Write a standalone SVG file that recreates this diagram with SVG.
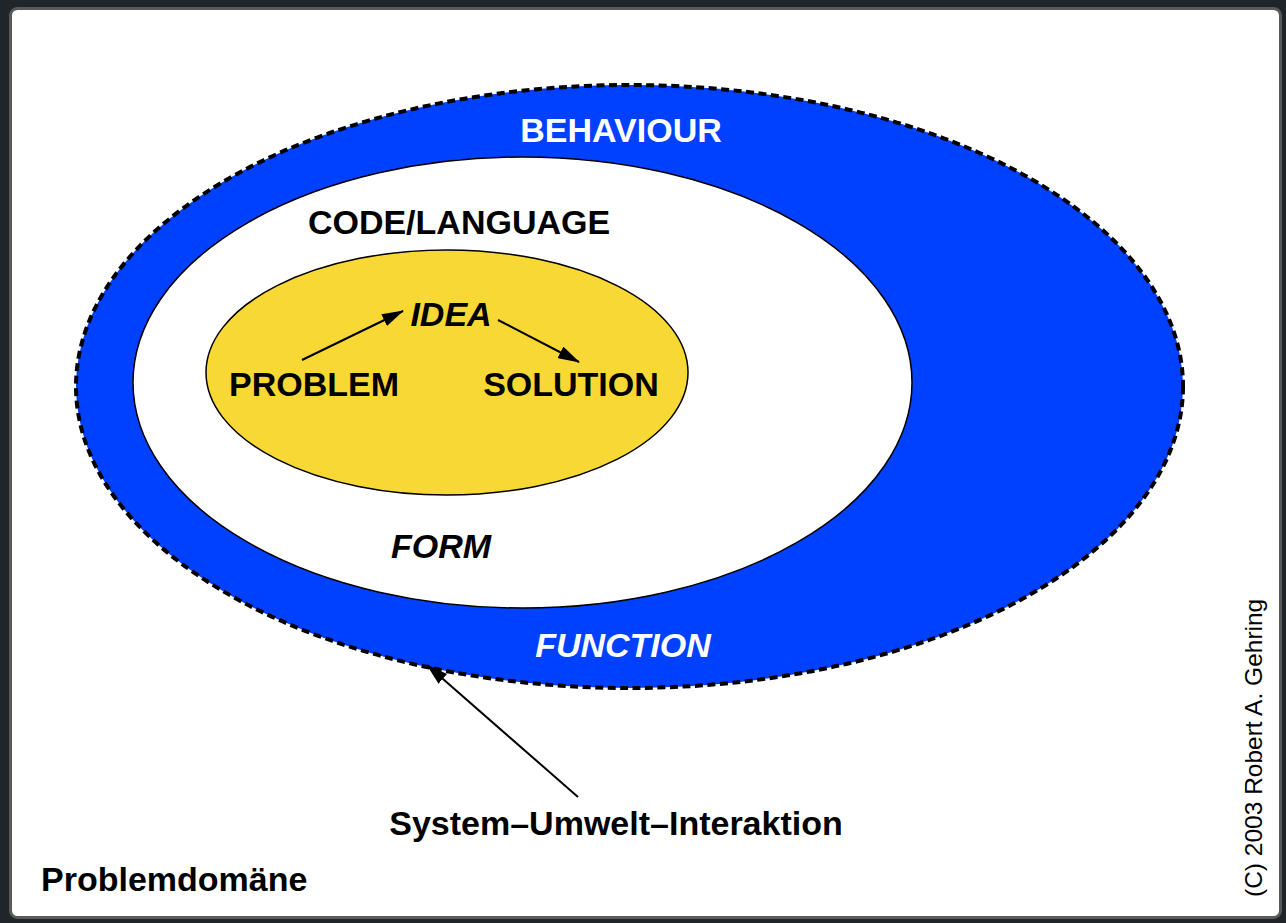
<svg xmlns="http://www.w3.org/2000/svg" width="1286" height="923" viewBox="0 0 1286 923">
<style>
.t{font-family:"Liberation Sans",Arial,sans-serif;font-weight:bold;font-size:34px;text-anchor:middle}
.i{font-style:italic}
.w{fill:#ffffff}
.k{fill:#000000}
.ln{stroke:#000;stroke-width:2;fill:none}
</style>
<defs>
<marker id="ah" viewBox="0 0 22 13" refX="21" refY="6.5" markerWidth="22" markerHeight="13" markerUnits="userSpaceOnUse" orient="auto">
<path d="M0,0 L22,6.5 L0,13 Z" fill="#000"/>
</marker>
</defs>
<rect x="0" y="0" width="1286" height="923" fill="#1f2529"/>
<rect x="10.5" y="8.5" width="1270" height="909" rx="7" fill="#ffffff" stroke="#5a5a5a" stroke-width="3"/>
<g id="behaviour">
<ellipse cx="629.5" cy="386.5" rx="553.5" ry="301.5" fill="#0040ff" stroke="#000" stroke-width="4" stroke-dasharray="8,4.5"/>
<text class="t w" x="621" y="142">BEHAVIOUR</text>
<text class="t w i" x="623" y="657">FUNCTION</text>
</g>
<g id="form">
<ellipse cx="522.5" cy="382.5" rx="389.5" ry="225.5" fill="#ffffff" stroke="#000" stroke-width="1.5"/>
<text class="t k" x="459" y="234">CODE/LANGUAGE</text>
<text class="t k i" x="441" y="558">FORM</text>
</g>
<g id="idea-core">
<ellipse cx="447" cy="372.5" rx="241" ry="122.5" fill="#f8d835" stroke="#000" stroke-width="1.5"/>
</g>
<g id="idea"><text class="t k i" x="451" y="326">IDEA</text></g>
<g id="problem"><text class="t k" x="314" y="396">PROBLEM</text></g>
<g id="solution"><text class="t k" x="571" y="396">SOLUTION</text></g>
<g id="interaction"><text class="t k" x="616" y="835">System–Umwelt–Interaktion</text></g>
<g id="domain"><text class="t k" x="41" y="891" style="text-anchor:start">Problemdomäne</text></g>
<g id="copyright"><text x="1262" y="897" transform="rotate(-90 1262 897)" style="font-family:'Liberation Sans',Arial,sans-serif;font-size:24.5px;fill:#000">(C) 2003 Robert A. Gehring</text></g>
<g id="connectors">
<line class="ln" x1="302" y1="360" x2="403" y2="311" marker-end="url(#ah)"/>
<line class="ln" x1="498" y1="320" x2="579" y2="362" marker-end="url(#ah)"/>
<line class="ln" x1="578" y1="797" x2="427" y2="665" marker-end="url(#ah)"/>
</g>
</svg>
